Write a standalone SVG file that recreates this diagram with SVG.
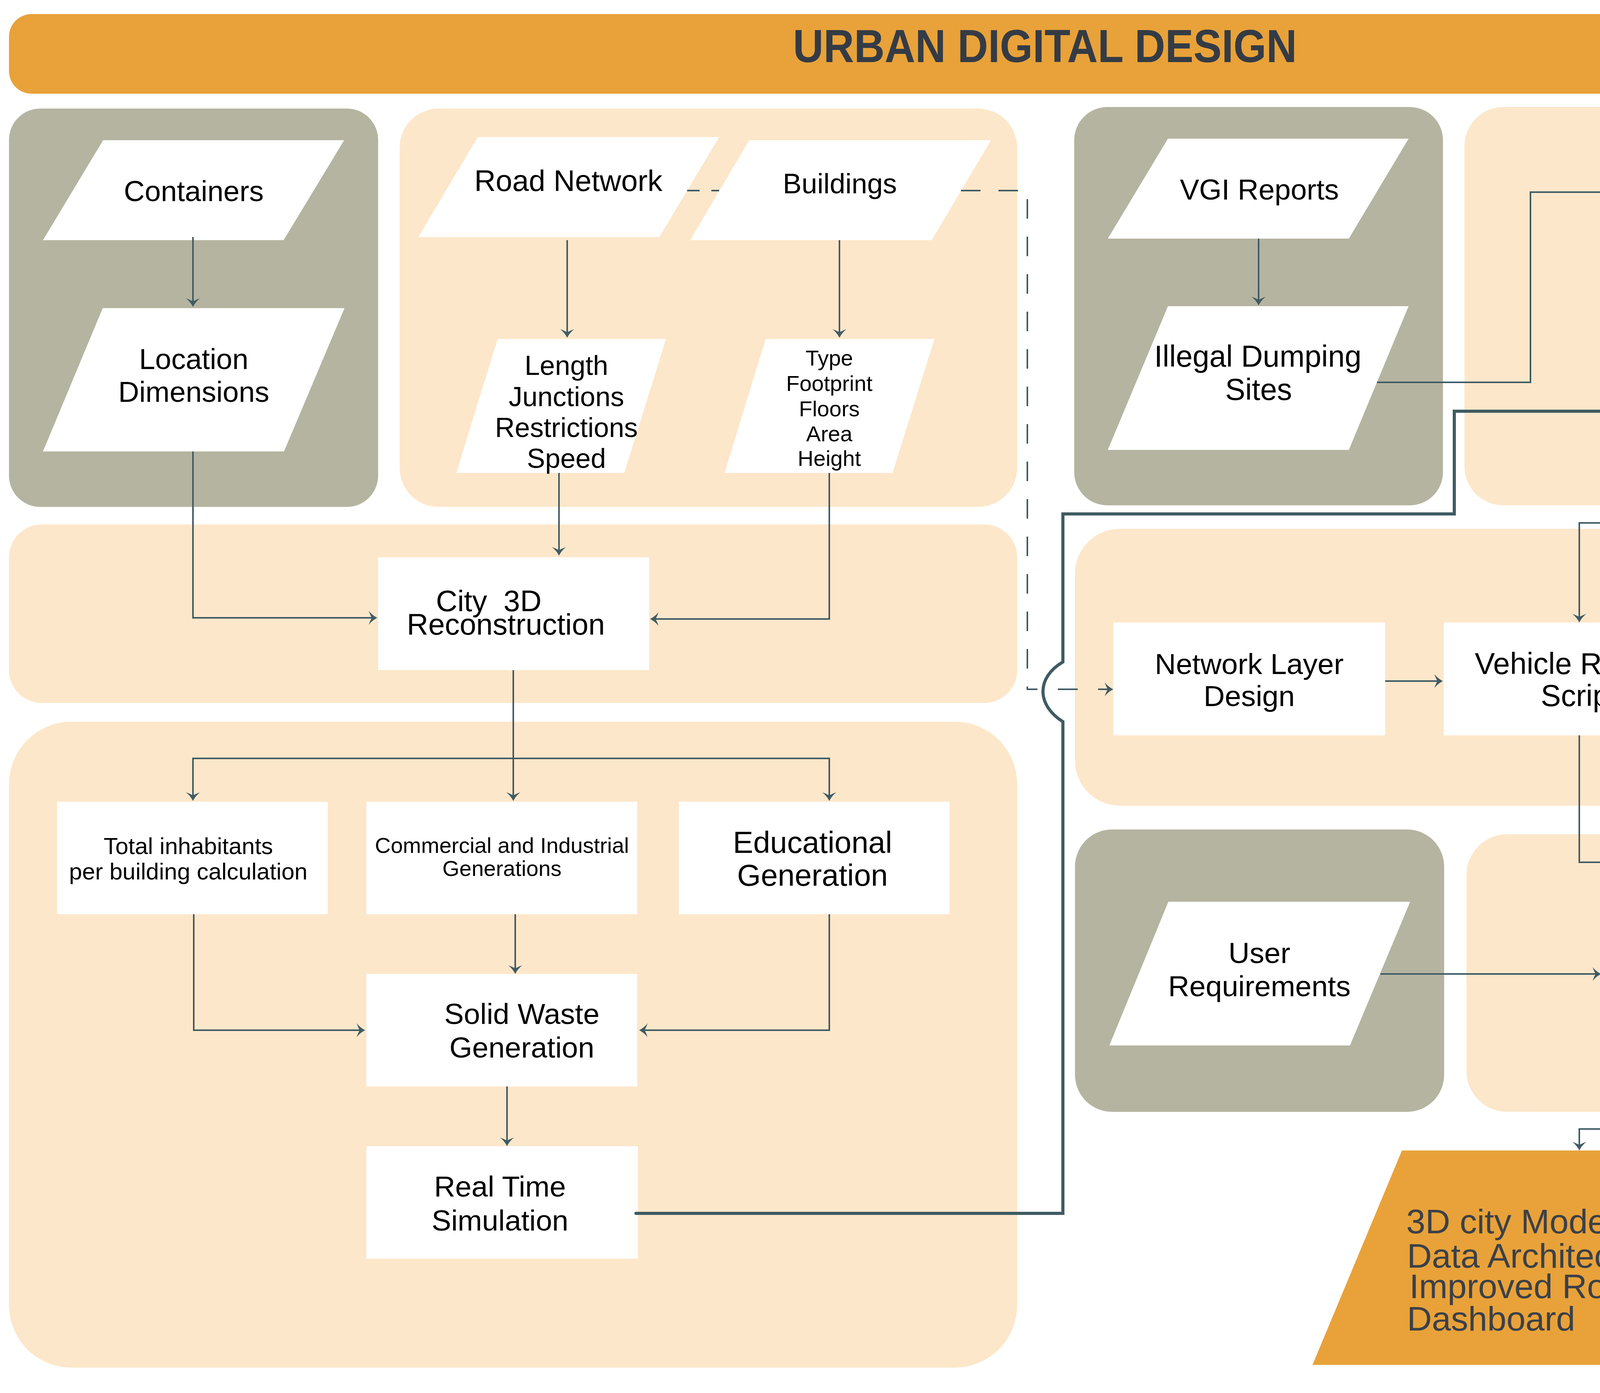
<svg xmlns="http://www.w3.org/2000/svg" width="5389" height="3567" viewBox="0 0 5389 3567">
<style>
.gray{fill:#B5B4A0}
.peach{fill:#FDE7CA}
.wh{fill:#FFFFFF}
.orange{fill:#E8A239}
text{font-family:"Liberation Sans",Arial,sans-serif;fill:#000;text-anchor:middle}
.ttl{font-weight:bold;fill:#343B45}
.out{fill:#3B4049;text-anchor:start}
.ln{fill:none;stroke:#3F5B63;stroke-width:4}
.thick{fill:none;stroke:#3F5B63;stroke-width:8;stroke-linecap:round;stroke-linejoin:miter}
.dash{fill:none;stroke:#3F5B63;stroke-width:4}
.arr{marker-end:url(#a)}
</style>
<defs>
<marker id="a" viewBox="-16 -20 26 40" refX="0" refY="0" markerWidth="26" markerHeight="40" markerUnits="userSpaceOnUse" orient="auto">
<path d="M8,0 C0,-4 -8,-10 -14,-18 C-11,-9 -8,-3 -6,0 C-8,3 -11,9 -14,18 C-8,10 0,4 8,0 Z" fill="#3F5B63"/>
</marker>
<marker id="b" viewBox="-36 -40 50 80" refX="0" refY="0" markerWidth="50" markerHeight="80" markerUnits="userSpaceOnUse" orient="auto">
<path d="M12,0 C0,-8 -24,-22 -34,-37 C-28,-20 -25,-8 -22,0 C-25,8 -28,20 -34,37 C-24,22 0,8 12,0 Z" fill="#3F5B63"/>
</marker>
</defs>
<rect width="5389" height="3567" fill="#FFFFFF"/>

<g id="title">
<rect class="orange" x="23" y="36" width="5310" height="204" rx="58" ry="58"/>
<text class="ttl" x="2675" y="159" font-size="118" textLength="1290" lengthAdjust="spacingAndGlyphs">URBAN DIGITAL DESIGN</text>
</g>

<g id="panels">
<rect class="gray" x="23" y="278" width="945" height="1020" rx="80" ry="80"/>
<rect class="peach" x="1023" y="278" width="1581" height="1020" rx="100" ry="100"/>
<rect class="gray" x="2750" y="274" width="944" height="1020" rx="85" ry="85"/>
<rect class="peach" x="3749" y="274" width="1584" height="1020" rx="100" ry="100"/>
<rect class="peach" x="23" y="1343" width="2581" height="457" rx="84" ry="84"/>
<rect class="peach" x="23" y="1848" width="2581" height="1654" rx="160" ry="160"/>
<rect class="peach" x="2752" y="1354" width="2585" height="709" rx="115" ry="115"/>
<rect class="gray" x="2752" y="2124" width="945" height="723" rx="95" ry="95"/>
<rect class="peach" x="3754" y="2136" width="1584" height="711" rx="105" ry="105"/>
</g>

<g id="containers">
<polygon class="wh" points="264,359 881,359 726,615 110,615"/>
<text x="496" y="515" font-size="74">Containers</text>
</g>
<g id="location-dimensions">
<polygon class="wh" points="263,789 882,789 727,1156 110,1156"/>
<text x="496" y="945" font-size="74">Location</text>
<text x="496" y="1029" font-size="74">Dimensions</text>
</g>
<g id="road-network">
<polygon class="wh" points="1223,351 1841,351 1688,607 1071,607"/>
<text x="1455" y="489" font-size="76">Road Network</text>
</g>
<g id="buildings">
<polygon class="wh" points="1918,359 2537,359 2385,615 1767,615"/>
<text x="2150" y="495" font-size="72">Buildings</text>
</g>
<g id="road-attributes">
<polygon class="wh" points="1274,868 1705,868 1598,1211 1168,1211"/>
<text x="1450" y="960" font-size="70">Length</text>
<text x="1450" y="1040" font-size="70">Junctions</text>
<text x="1450" y="1119" font-size="70">Restrictions</text>
<text x="1450" y="1198" font-size="70">Speed</text>
</g>
<g id="building-attributes">
<polygon class="wh" points="1960,868 2392,868 2285,1211 1855,1211"/>
<text x="2123" y="936" font-size="56">Type</text>
<text x="2123" y="1001" font-size="56">Footprint</text>
<text x="2123" y="1066" font-size="56">Floors</text>
<text x="2123" y="1130" font-size="56">Area</text>
<text x="2123" y="1193" font-size="56">Height</text>
</g>
<g id="city-3d">
<rect class="wh" x="968" y="1427" width="694" height="289"/>
<text x="1116" y="1565" font-size="76" style="text-anchor:start" xml:space="preserve">City  3D</text>
<text x="1295" y="1625" font-size="76">Reconstruction</text>
</g>
<g id="total-inhabitants">
<rect class="wh" x="146" y="2053" width="693" height="288"/>
<text x="482" y="2187" font-size="60">Total inhabitants</text>
<text x="482" y="2252" font-size="60">per building calculation</text>
</g>
<g id="commercial">
<rect class="wh" x="938" y="2053" width="693" height="288"/>
<text x="1285" y="2184" font-size="56">Commercial and Industrial</text>
<text x="1285" y="2243" font-size="56">Generations</text>
</g>
<g id="educational">
<rect class="wh" x="1738" y="2053" width="693" height="288"/>
<text x="2080" y="2184" font-size="78">Educational</text>
<text x="2080" y="2268" font-size="78">Generation</text>
</g>
<g id="solid-waste">
<rect class="wh" x="938" y="2494" width="693" height="288"/>
<text x="1336" y="2622" font-size="75">Solid Waste</text>
<text x="1336" y="2708" font-size="75">Generation</text>
</g>
<g id="real-time">
<rect class="wh" x="938" y="2935" width="695" height="288"/>
<text x="1280" y="3064" font-size="75">Real Time</text>
<text x="1280" y="3151" font-size="75">Simulation</text>
</g>
<g id="vgi-reports">
<polygon class="wh" points="2990,355 3606,355 3453,611 2836,611"/>
<text x="3224" y="511" font-size="74">VGI Reports</text>
</g>
<g id="illegal-dumping">
<polygon class="wh" points="2990,784 3606,784 3453,1152 2836,1152"/>
<text x="3220" y="939" font-size="77">Illegal Dumping</text>
<text x="3222" y="1024" font-size="77">Sites</text>
</g>
<g id="script-etl">
<rect class="wh" x="4193" y="340" width="694" height="289"/>
<text x="4538" y="469" font-size="74">Script Real</text>
<text x="4538" y="551" font-size="74">Data ETL</text>
</g>
<g id="data-integration">
<rect class="wh" x="4193" y="811" width="694" height="289"/>
<text x="4564" y="977" font-size="78">Data Integration</text>
</g>
<g id="network-layer">
<rect class="wh" x="2850" y="1594" width="696" height="289"/>
<text x="3198" y="1726" font-size="75">Network Layer</text>
<text x="3198" y="1808" font-size="75">Design</text>
</g>
<g id="vehicle-routing">
<rect class="wh" x="3696" y="1594" width="695" height="289"/>
<text x="4043" y="1726" font-size="77">Vehicle Routing</text>
<text x="4043" y="1808" font-size="77">Script</text>
</g>
<g id="collection-vehicle">
<polygon class="wh" points="4641,1401 5214,1401 5075,1656 4503,1656"/>
<text x="4858" y="1514" font-size="58">Collection Vehicle</text>
<text x="4858" y="1579" font-size="58">Characteristics</text>
</g>
<g id="landfill">
<polygon class="wh" points="4596,1740 5075,1740 4960,1994 4481,1994"/>
<text x="4779" y="1850" font-size="76">Landfill</text>
<text x="4779" y="1935" font-size="76">Location</text>
</g>
<g id="user-requirements">
<polygon class="wh" points="2991,2309 3610,2309 3456,2677 2840,2677"/>
<text x="3224" y="2466" font-size="75">User</text>
<text x="3224" y="2551" font-size="75">Requirements</text>
</g>
<g id="dashboard">
<rect class="wh" x="4099" y="2331" width="694" height="289"/>
<text x="4443" y="2461" font-size="78">Dashboard</text>
<text x="4443" y="2546" font-size="78">Design</text>
</g>
<g id="output">
<polygon class="orange" points="3589,2946 4505,2946 4276,3495 3360,3495"/>
<text class="out" x="3600" y="3158" font-size="88">3D city Model,</text>
<text class="out" x="3602" y="3246" font-size="88">Data Architecture,</text>
<text class="out" x="3608" y="3324" font-size="88">Improved Routes,</text>
<text class="out" x="3602" y="3407" font-size="88">Dashboard</text>
</g>

<g id="connectors">
<path class="ln arr" d="M494,607 V778"/>
<path class="ln arr" d="M494,1156 V1582 H958"/>
<path class="ln arr" d="M1452,615 V857"/>
<path class="ln arr" d="M2149,615 V857"/>
<path class="ln arr" d="M1431,1211 V1415"/>
<path class="ln arr" d="M2123,1211 V1585 H1672"/>
<path class="ln arr" d="M1314,1716 V2043"/>
<path class="ln arr" d="M1314,1942 H494 V2043"/>
<path class="ln arr" d="M1314,1942 H2123 V2043"/>
<path class="ln arr" d="M1319,2341 V2486"/>
<path class="ln arr" d="M496,2341 V2638 H927"/>
<path class="ln arr" d="M2123,2341 V2638 H1644"/>
<path class="ln arr" d="M1298,2782 V2927"/>
<path class="thick" style="marker-end:url(#b)" d="M1628,3107 H2721 V1848 C2653,1805 2653,1735 2721,1695 V1316 H3723 V1053 H4180"/>
<path class="ln arr" d="M3222,611 V774"/>
<path class="ln arr" d="M3525,979 H3918 V492 H4185"/>
<path class="ln" d="M4539,629 V811"/>
<path class="ln arr" d="M4546,1100 V1339 H4043 V1586"/>
<path class="ln arr" d="M4576,1526 H4231 V1586"/>
<path class="ln arr" d="M3546,1744 H3686"/>
<path class="ln arr" d="M4572,1802 H4403"/>
<path class="ln arr" d="M4043,1883 V2208 H4464 V2323"/>
<path class="ln arr" d="M3534,2494 H4091"/>
<path class="ln arr" d="M4443,2620 V2891 H4043 V2938"/>
<path class="dash" stroke-dasharray="32 30" d="M1759,488 H1841"/>
<path class="dash" stroke-dasharray="50 46" d="M2460,488 H2630 V1765 H2656"/>
<path class="dash" d="M2708,1765 H2759"/>
<path class="ln arr" d="M2811,1765 H2842"/>
<path class="dash" stroke-dasharray="50 50" d="M4698,1100 V1352"/>
<path class="dash arr" stroke-dasharray="46 58" d="M4698,2100 V2322"/>
</g>
</svg>
